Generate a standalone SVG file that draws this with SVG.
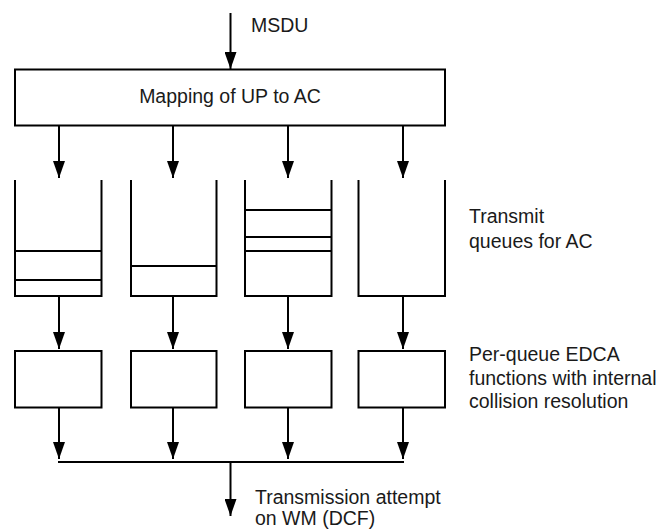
<svg xmlns="http://www.w3.org/2000/svg" width="663" height="531" viewBox="0 0 663 531">
<defs>
<style>
.ln{stroke:#000;stroke-width:2;fill:none}
.bx{stroke:#000;stroke-width:2;fill:#fff}
text{font-family:"Liberation Sans",Arial,sans-serif;font-size:19.5px;fill:#1a1a1a}
</style>
<marker id="ah" viewBox="0 0 17 12" refX="17" refY="6" markerWidth="17" markerHeight="12" markerUnits="userSpaceOnUse" orient="auto">
<path d="M0,0 L17,6 L0,12 Z" fill="#000"/>
</marker>
</defs>
<rect width="663" height="531" fill="#fff"/>
<g id="connectors">
<line class="ln" x1="230.5" y1="13" x2="230.5" y2="69" marker-end="url(#ah)"/>
<line class="ln" x1="59" y1="126" x2="59" y2="178" marker-end="url(#ah)"/>
<line class="ln" x1="173" y1="126" x2="173" y2="178" marker-end="url(#ah)"/>
<line class="ln" x1="288" y1="126" x2="288" y2="178" marker-end="url(#ah)"/>
<line class="ln" x1="403" y1="126" x2="403" y2="178" marker-end="url(#ah)"/>
<line class="ln" x1="59" y1="296" x2="59" y2="349" marker-end="url(#ah)"/>
<line class="ln" x1="173" y1="296" x2="173" y2="349" marker-end="url(#ah)"/>
<line class="ln" x1="288" y1="296" x2="288" y2="349" marker-end="url(#ah)"/>
<line class="ln" x1="403" y1="296" x2="403" y2="349" marker-end="url(#ah)"/>
<line class="ln" x1="59" y1="407" x2="59" y2="459" marker-end="url(#ah)"/>
<line class="ln" x1="173" y1="407" x2="173" y2="459" marker-end="url(#ah)"/>
<line class="ln" x1="288" y1="407" x2="288" y2="459" marker-end="url(#ah)"/>
<line class="ln" x1="403" y1="407" x2="403" y2="459" marker-end="url(#ah)"/>
<line class="ln" x1="58" y1="462" x2="404" y2="462"/>
<line class="ln" x1="230.5" y1="462" x2="230.5" y2="516" marker-end="url(#ah)"/>
</g>
<text x="251" y="32">MSDU</text>
<g id="mapping">
<rect class="bx" x="15" y="69.5" width="430" height="56"/>
<text x="230" y="103" text-anchor="middle">Mapping of UP to AC</text>
</g>
<g id="queue1">
<path class="ln" d="M15,180 V296 H101.5 V180 M15,251 H101.5 M15,280 H101.5"/>
</g>
<g id="queue2">
<path class="ln" d="M131,180 V296 H216.5 V180 M131,266 H216.5"/>
</g>
<g id="queue3">
<path class="ln" d="M245,180 V296 H331.5 V180 M245,210 H331.5 M245,237 H331.5 M245,251 H331.5"/>
</g>
<g id="queue4">
<path class="ln" d="M358.5,180 V296 H445 V180"/>
</g>
<g id="edca1"><rect class="bx" x="15" y="351" width="86.5" height="56.5"/></g>
<g id="edca2"><rect class="bx" x="131" y="351" width="85.5" height="56.5"/></g>
<g id="edca3"><rect class="bx" x="245" y="351" width="86.5" height="56.5"/></g>
<g id="edca4"><rect class="bx" x="358.5" y="351" width="86.5" height="56.5"/></g>
<g id="labels">
<text x="469" y="223">Transmit</text>
<text x="469" y="248">queues for AC</text>
<text x="469" y="361">Per-queue EDCA</text>
<text x="469" y="385">functions with internal</text>
<text x="469" y="408">collision resolution</text>
<text x="255" y="504">Transmission attempt</text>
<text x="255" y="525">on WM (DCF)</text>
</g>
</svg>
